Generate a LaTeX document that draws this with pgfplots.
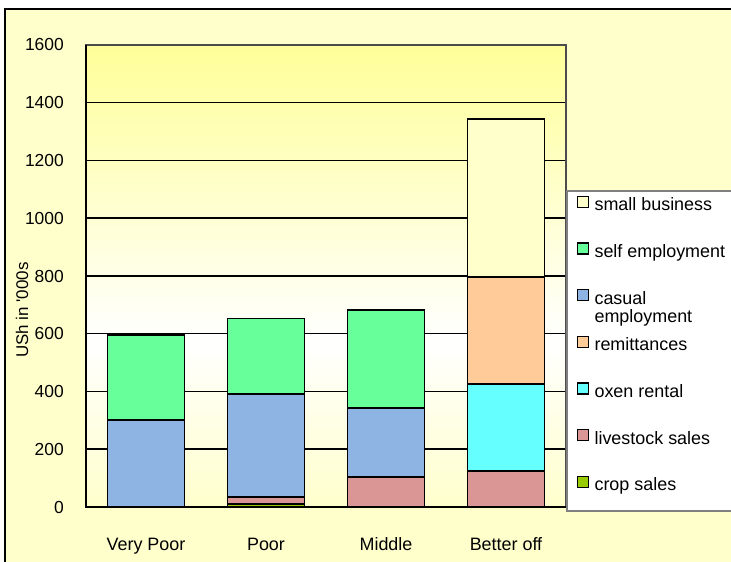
\documentclass[border=0pt]{standalone}
\usepackage{pgfplots}
\pgfplotsset{compat=1.18}
\usepackage{fontspec}
\setmainfont{Liberation Sans}[Ligatures=TeXOff]

\definecolor{outerbg}{HTML}{FFFFCC}
\definecolor{bgtop}{HTML}{FFFF99}
\definecolor{bgbot}{HTML}{FFFFCC}
\definecolor{cSmall}{HTML}{FFFFCC}
\definecolor{cSelf}{HTML}{66FF99}
\definecolor{cCasual}{HTML}{8DB4E2}
\definecolor{cRemit}{HTML}{FFCC99}
\definecolor{cOxen}{HTML}{66FFFF}
\definecolor{cLive}{HTML}{DA9694}
\definecolor{cCrop}{HTML}{99CC00}

% yellow at the top, white a bit below the middle, cream at the bottom
\pgfdeclareverticalshading{plotbg}{100bp}{color(0bp)=(bgbot); color(25bp)=(bgbot);
  color(43bp)=(white); color(75bp)=(bgtop); color(100bp)=(bgtop)}

% every legend row gets the same height and depth
\newcommand{\lrow}[1]{\raisebox{0pt}[13bp][3bp]{#1}}

% first legend row: marker does not count in the row height
\pgfplotsset{flatimage/.style={legend image code/.code={%
    \draw[##1, overlay, draw=black, line width=1.3bp] (0bp,3.5bp) rectangle (11bp,14.5bp);
    \path (0bp,0bp) (11bp,0bp);}}}

\begin{document}
\begin{tikzpicture}
\useasboundingbox (0,0) rectangle (731bp,562bp);
\clip (0,0) rectangle (731bp,562bp);
\fill[white] (0,0) rectangle (731bp,562bp);
\fill[outerbg] (5bp,-5bp) rectangle (745bp,553bp);
\draw[line width=2bp] (5bp,-5bp) -- (5bp,553bp) -- (745bp,553bp);

\begin{axis}[
  at={(86bp,55bp)}, anchor=south west,
  scale only axis, width=480bp, height=462bp,
  ybar stacked, bar width=77bp,
  xmin=-0.5, xmax=3.5, ymin=0, ymax=1600,
  xtick={0,1,2,3},
  xticklabels={Very Poor, Poor, Middle, Better off},
  ytick={0,200,...,1600},
  major tick length=0pt,
  ymajorgrids,
  grid style={black, line width=1.5bp},
  axis line style={gray!60!black, line width=1.5bp},
  axis background/.style={shade, shading=plotbg},
  font=\fontsize{18}{21}\selectfont,
  ticklabel style={font=\fontsize{18}{21}\selectfont},
  yticklabel style={anchor=east, inner sep=0pt, xshift=-22bp,
    font=\fontsize{17.5}{21}\selectfont,
    /pgf/number format/assume math mode=true, /pgf/number format/1000 sep={}},
  xticklabel style={anchor=base, inner sep=0pt, yshift=-43bp},
  ylabel={USh in '000s},
  ylabel style={at={(axis description cs:-0.133,0.426)}, anchor=center,
    font=\fontsize{17}{20}\selectfont},
  every axis plot/.append style={draw=black, line width=1.8bp},
  legend image code/.code={\draw[#1, draw=black, line width=1.3bp] (0bp,3.5bp) rectangle (11bp,14.5bp);},
  reverse legend,
  legend style={at={(1,0.686)}, anchor=north west, draw=gray, line width=1.5bp,
    fill=white, inner xsep=10bp, inner ysep=19bp,
    font=\fontsize{18}{21}\selectfont,
    nodes={inner sep=0pt}, row sep=30bp, column sep=5bp,
    cells={anchor=base west}},
  after end axis/.code={
    \draw[black, line width=1.8bp] (rel axis cs:0,1) -- (rel axis cs:0,0) -- (rel axis cs:1,0);
  },
]
\addplot[fill=cCrop] coordinates {(0,0) (1,11) (2,0) (3,0)};
\addlegendentry{\lrow{crop sales}}
\addplot[fill=cLive] coordinates {(0,0) (1,24) (2,104) (3,124)};
\addlegendentry{\lrow{livestock sales}}
\addplot[fill=cOxen] coordinates {(0,0) (1,0) (2,0) (3,303)};
\addlegendentry{\lrow{oxen rental}}
\addplot[fill=cRemit] coordinates {(0,0) (1,0) (2,0) (3,370)};
\addlegendentry{\lrow{remittances}}
\addplot[fill=cCasual] coordinates {(0,302) (1,357) (2,240) (3,0)};
\addlegendentry{\lrow{\begin{tabular}[t]{@{}l@{}}casual\\[-3bp]employment\end{tabular}}}
\addplot[fill=cSelf] coordinates {(0,293) (1,261) (2,338) (3,0)};
\addlegendentry{\lrow{self employment}}
\addplot[fill=cSmall, flatimage] coordinates {(0,3) (1,0) (2,0) (3,547)};
\addlegendentry{\raisebox{0pt}[1bp][3bp]{small business}}
\end{axis}
\end{tikzpicture}
\end{document}
